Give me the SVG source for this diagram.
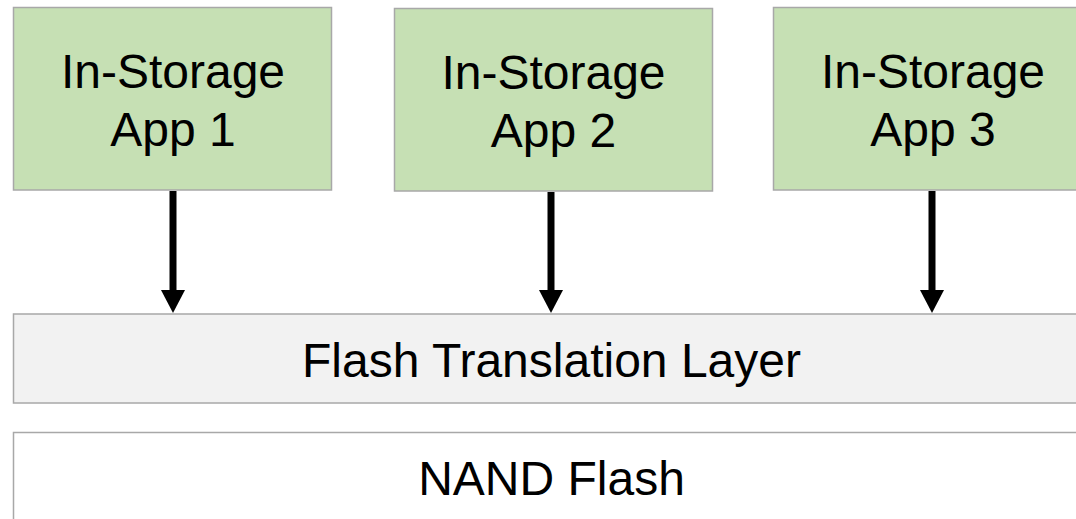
<svg xmlns="http://www.w3.org/2000/svg" width="1076" height="519" viewBox="0 0 1076 519">
  <style>
    .app { fill: #c6e0b4; stroke: #a8a8a8; stroke-width: 1.5; }
    .ftl { fill: #f2f2f2; stroke: #a8a8a8; stroke-width: 1.5; }
    .nand { fill: #ffffff; stroke: #a8a8a8; stroke-width: 1.5; }
    .lbl { font-family: "Liberation Sans", Arial, sans-serif; font-size: 48px; fill: #000000; text-anchor: middle; }
    .conn { stroke: #000000; stroke-width: 7; fill: none; }
  </style>
  <defs>
    <marker id="head" markerUnits="userSpaceOnUse" markerWidth="24" markerHeight="24" viewBox="0 0 24 24" refX="0" refY="12" orient="auto">
      <path d="M0,0 L23,12 L0,24 Z" fill="#000000"/>
    </marker>
  </defs>
  <rect width="1076" height="519" fill="#ffffff"/>
  <g id="app1">
    <rect class="app" x="13.5" y="7.5" width="318" height="182.5"/>
    <text class="lbl" x="173" y="88">In-Storage</text>
    <text class="lbl" x="173" y="145.5">App 1</text>
  </g>
  <g id="app2">
    <rect class="app" x="394.5" y="8.5" width="318" height="182.5"/>
    <text class="lbl" x="553.5" y="89">In-Storage</text>
    <text class="lbl" x="553.5" y="146.5">App 2</text>
  </g>
  <g id="app3">
    <rect class="app" x="773.5" y="7.5" width="320" height="182.5"/>
    <text class="lbl" x="933" y="88">In-Storage</text>
    <text class="lbl" x="933" y="145.5">App 3</text>
  </g>
  <g id="ftl">
    <rect class="ftl" x="13.5" y="314" width="1080" height="89"/>
    <text class="lbl" x="551.5" y="376.5">Flash Translation Layer</text>
  </g>
  <g id="nand">
    <rect class="nand" x="13.5" y="432.5" width="1080" height="100"/>
    <text class="lbl" x="551.5" y="495">NAND Flash</text>
  </g>
  <g id="connectors">
    <line class="conn" x1="173" y1="191" x2="173" y2="290" marker-end="url(#head)"/>
    <line class="conn" x1="551" y1="192" x2="551" y2="290" marker-end="url(#head)"/>
    <line class="conn" x1="932" y1="191" x2="932" y2="290" marker-end="url(#head)"/>
  </g>
</svg>
